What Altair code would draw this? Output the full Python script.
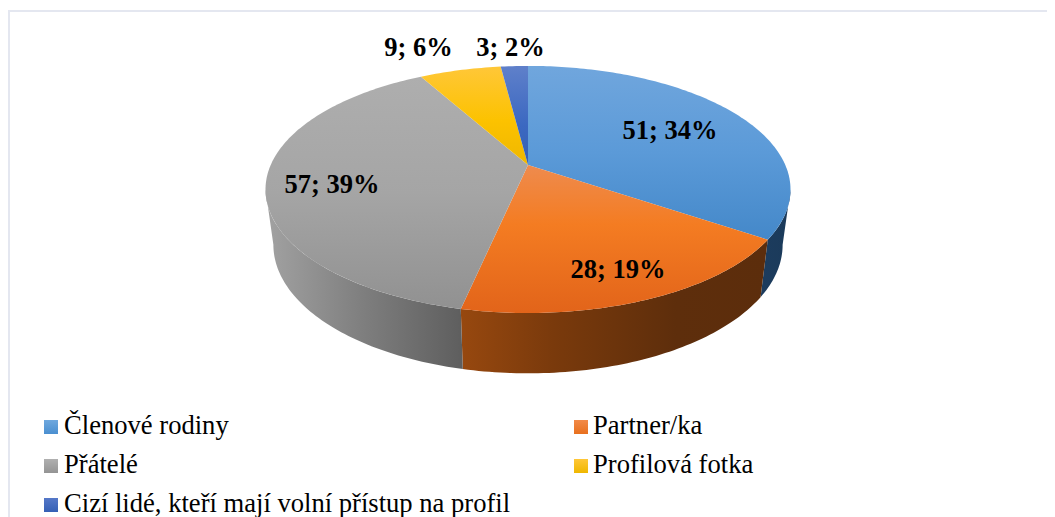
import math
import altair as alt

categories = ["Členové rodiny", "Partner/ka", "Přátelé", "Profilová fotka",
              "Cizí lidé, kteří mají volní přístup na profil"]
values = [51, 28, 57, 9, 3]

# styles
top_stops = [
    [("#70a6dd", 0), ("#5b9ad8", 0.5), ("#4488c9", 1)],
    [("#ee8b4e", 0), ("#f47c22", 0.4), ("#e2641a", 1)],
    [("#aeaeae", 0), ("#a5a5a5", 0.5), ("#919191", 1)],
    [("#ffc738", 0), ("#fcc200", 0.55), ("#efb700", 1)],
    [("#5f80ca", 0), ("#3b68c1", 0.6), ("#3560b5", 1)],
]
wall_stops = {
    0: [("#1c3c5e", 0), ("#1b3a5a", 1)],
    1: [("#97480f", 0), ("#7a3a0c", 0.3), ("#5e2e0c", 0.7), ("#5c2d0c", 1)],
    2: [("#a2a2a2", 0), ("#7e7e7e", 0.5), ("#5e5e5e", 1)],
}
legend_stops = [
    [("#6fa8de", 0), ("#4a8fd0", 1)],
    [("#f28a48", 0), ("#e8701e", 1)],
    [("#b0b0b0", 0), ("#949494", 1)],
    [("#ffc738", 0), ("#efb700", 1)],
    [("#5578c8", 0), ("#3560b5", 1)],
]

# layout (page px; the chart origin sits at the 8px page margin)
M = 8
CX, CY = 528, 165
A, B, K = 257.3, 118.7, 0.198
SX, SY, DY = 0.97, 1.04, 54.4
label_pos = [(670, 131), (618, 270), (332, 185), (418.5, 48), (510.5, 48)]
# symbol left, text left, row centre
legend_pos = [(44, 64, 427), (574, 593, 427), (44, 64, 466), (574, 593, 466), (44, 64, 505)]
FONT = "Liberation Serif"


def project(theta):
    u, v = math.sin(theta), math.cos(theta)
    w = 1 + K * v
    return A * u / w, -B * v / w


def top_ring(t0, t1):
    n = max(2, int(abs(t1 - t0) / math.radians(1)))
    return [project(t0 + (t1 - t0) * i / n) for i in range(n + 1)]


def feature(points):
    ring = [[x, y] for x, y in points]
    ring.append(ring[0])
    return {"type": "Feature", "properties": {},
            "geometry": {"type": "Polygon", "coordinates": [ring]}}


def gradient(stops, vertical=True):
    return alt.LinearGradient(
        gradient="linear",
        x1=0, y1=0,
        x2=0 if vertical else 1,
        y2=1 if vertical else 0,
        stops=[alt.GradientStop(color=c, offset=o) for c, o in stops],
    )


def shape(points, stops, vertical=True):
    return alt.Chart(alt.Data(values=[feature(points)])).mark_geoshape(
        fill=gradient(stops, vertical), stroke=None
    ).project(type="identity", scale=1, translate=[CX - M, CY - M])


total = sum(values)
edges = [0]
for val in values:
    edges.append(edges[-1] + val / total * 2 * math.pi)

right_sil = math.pi / 2 + math.asin(K)
left_sil = 2 * math.pi - right_sil

layers = []

# border
border = "#e4e7f0"
layers.append(alt.Chart(alt.Data(values=[{}])).mark_rule(color=border, strokeWidth=2).encode(
    x=alt.value(10 - M), x2=alt.value(1039), y=alt.value(11 - M)))
layers.append(alt.Chart(alt.Data(values=[{}])).mark_rule(color=border, strokeWidth=2).encode(
    x=alt.value(9 - M), y=alt.value(10 - M), y2=alt.value(509)))

# side walls
for i, stops in wall_stops.items():
    t0 = max(edges[i], right_sil)
    t1 = min(edges[i + 1], left_sil)
    up = top_ring(t0, t1)
    down = [(x * SX, y * SY + DY) for x, y in reversed(up)]
    layers.append(shape(up + down, stops, vertical=False))

# top face
for i, stops in enumerate(top_stops):
    layers.append(shape([(0, 0)] + top_ring(edges[i], edges[i + 1]), stops))

# data labels
for val, (lx, ly) in zip(values, label_pos):
    layers.append(
        alt.Chart(alt.Data(values=[{"t": f"{val}; {round(val / total * 100)}%"}]))
        .mark_text(font=FONT, fontSize=26.5, fontWeight="bold", color="#000000",
                   align="center", baseline="middle")
        .encode(text="t:N", x=alt.value(lx - M), y=alt.value(ly - M))
    )

# legend
for name, stops, (sx, tx, ly) in zip(categories, legend_stops, legend_pos):
    layers.append(
        alt.Chart(alt.Data(values=[{"t": name}]))
        .mark_square(size=196, fill=gradient(stops), opacity=1, stroke=None)
        .encode(x=alt.value(sx + 7 - M), y=alt.value(ly - M))
    )
    layers.append(
        alt.Chart(alt.Data(values=[{"t": name}]))
        .mark_text(font=FONT, fontSize=26.6, color="#000000", align="left", baseline="middle")
        .encode(text="t:N", x=alt.value(tx - M), y=alt.value(ly - 1 - M))
    )

chart = alt.layer(*layers).properties(
    width=1039, height=509, padding=0,
    autosize=alt.AutoSizeParams(type="none"),
    background="#ffffff",
).configure_view(stroke=None)

chart.save("out.html", embed_options={"renderer": "svg", "actions": False})
